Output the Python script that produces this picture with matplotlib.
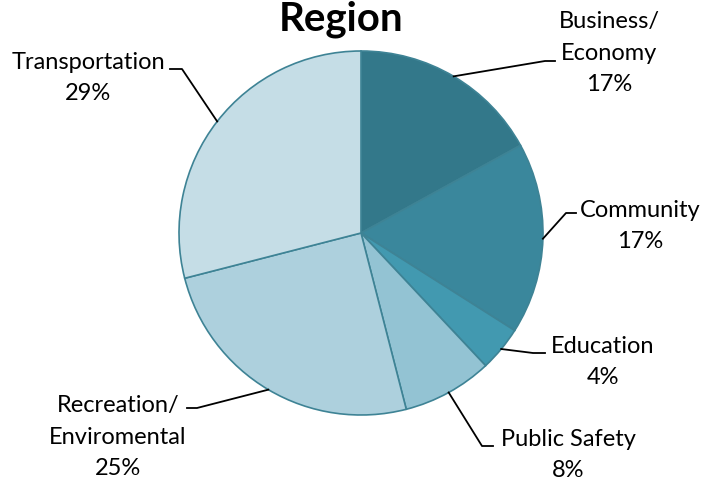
import numpy as np
import matplotlib.pyplot as plt

# Dane wykresu
categories = ["Business/\nEconomy", "Community", "Education", "Public Safety",
              "Recreation/\nEnviromental", "Transportation"]
shares = [17, 17, 4, 8, 25, 29]
colors = ["#33788A", "#3A879C", "#4299B0", "#93C3D3", "#ADD0DD", "#C5DDE6"]

# Położenia etykiet (piksele) i punkty załamania linii
label_xy = [(609, 53), (640, 226), (603, 362), (568, 455), (118, 437), (88, 78)]
elbow_xy = [(545, 61), (566, 213), (533, 353), (482, 446), (197, 408), (182, 69)]
elbow_end = [555, 576, 545, 493, 187, 170]

W, H = 707, 487
cx, cy, r = 361, 233, 182

plt.rcParams['font.family'] = ['Lato', 'DejaVu Sans']
fig = plt.figure(figsize=(W / 100, H / 100), dpi=100)
ax = fig.add_axes([0, 0, 1, 1])
ax.set_xlim(0, W)
ax.set_ylim(0, H)
ax.axis('off')

wedges, _ = ax.pie(shares, colors=colors, startangle=90, counterclock=False,
                   center=(cx, H - cy), radius=r,
                   wedgeprops=dict(edgecolor="#3E8395", linewidth=1.2))
ax.set_xlim(0, W)
ax.set_ylim(0, H)
ax.set_aspect('auto')

for w, lab, val, (lx, ly), (ex, ey), ee in zip(wedges, categories, shares,
                                                label_xy, elbow_xy, elbow_end):
    ang = np.deg2rad((w.theta1 + w.theta2) / 2)
    px = cx + r * np.cos(ang)
    py = (H - cy) + r * np.sin(ang)
    ax.plot([px, ex, ee], [py, H - ey, H - ey], color="black", lw=1.3)
    ax.text(lx, H - ly, f"{lab}\n{val}%", ha="center", va="center",
            multialignment="center", fontsize=17, linespacing=1.62)

fig.text(341 / W, 1 - 30 / H, "Region", ha="center", va="baseline",
         fontsize=29, fontweight="bold")

fig.savefig("out.png", dpi=100)
